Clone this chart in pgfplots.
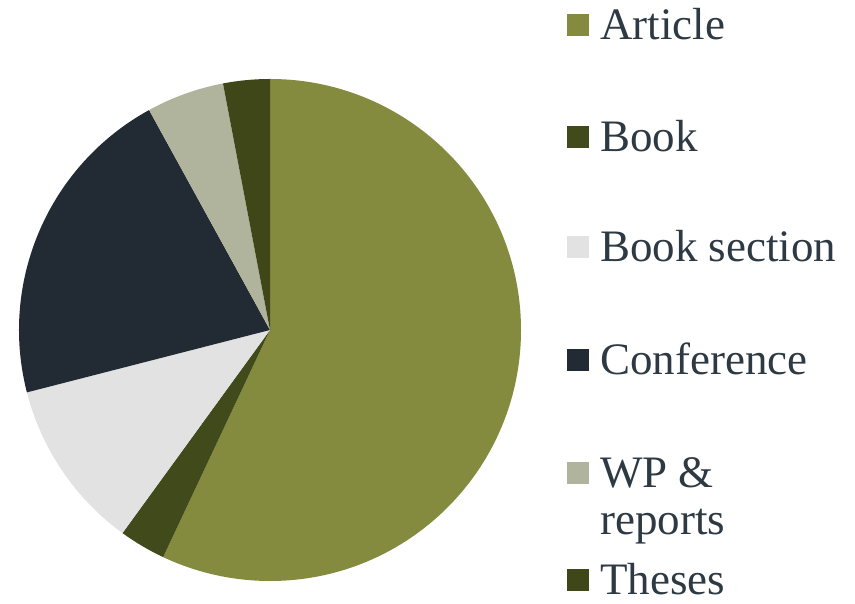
\documentclass[border=0pt]{standalone}
\usepackage{pgfplots}
\pgfplotsset{compat=1.18}
\usepackage{fontspec}
\setmainfont{Liberation Serif}
\definecolor{cArticle}{HTML}{848B3F}
\definecolor{cBook}{HTML}{414A1B}
\definecolor{cBookSec}{HTML}{E2E2E2}
\definecolor{cConf}{HTML}{222B33}
\definecolor{cWP}{HTML}{B1B49C}
\definecolor{cTheses}{HTML}{3F4719}
\definecolor{txt}{HTML}{2E3A43}
\begin{document}
\begin{tikzpicture}
\begin{axis}[
  x=1pt, y=1pt, xmin=0, xmax=855, ymin=0, ymax=604,
  hide axis, clip=false, scale only axis,
]
% share of each publication type (percent), clockwise from 12 o'clock
\pgfplotsextra{
  \def\a{90}
  \foreach \v/\c in {57/cArticle, 3/cBook, 11/cBookSec, 21/cConf, 5/cWP, 3/cTheses}{
    \pgfmathsetmacro{\s}{\a}
    \pgfmathsetmacro{\e}{\a-3.6*\v}
    \fill[\c] (axis cs:270,274) -- ++(\s:251pt) arc[start angle=\s, end angle=\e, radius=251pt] -- cycle;
    \xdef\a{\e}
  }
  % legend
  \foreach \y/\c/\t in {40/cArticle/Article, 152/cBook/Book, 262/cBookSec/Book section, 375/cConf/Conference, 488/cWP/WP \&, 595/cTheses/Theses}{
    \fill[\c] (axis cs:567,{604-\y+4}) rectangle (axis cs:589,{604-\y+26});
    \node[anchor=base west, inner sep=0pt, text=txt, font=\fontsize{45}{46}\selectfont] at (axis cs:600,{604-\y}) {\t};
  }
  \node[anchor=base west, inner sep=0pt, text=txt, font=\fontsize{45}{46}\selectfont] at (axis cs:600,{604-535}) {reports};
}
\end{axis}
\pgfresetboundingbox
\path (0,0) rectangle (855pt,604pt);
\end{tikzpicture}
\end{document}
